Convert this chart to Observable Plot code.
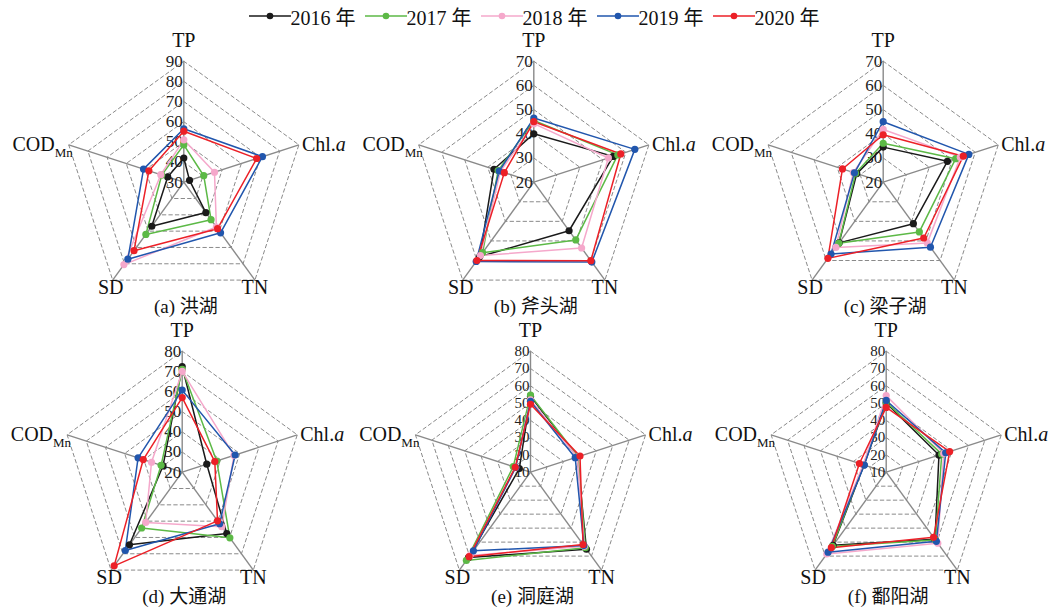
<!DOCTYPE html>
<html><head><meta charset="utf-8">
<script src="https://cdn.jsdelivr.net/npm/d3@7"></script>
<script src="https://cdn.jsdelivr.net/npm/@observablehq/plot@0.6"></script>
<style>
body{margin:0;background:#fff;font-family:"Liberation Serif","Noto Sans CJK SC",serif;color:#111;}
#legend{height:30px;display:flex;justify-content:center;align-items:center;gap:9px;padding-left:16px;font-size:20px;box-sizing:border-box;padding-top:2px}
.item{display:flex;align-items:center;white-space:nowrap}
#grid{display:grid;grid-template-columns:350px 350px 352px;grid-template-rows:290px 290px}
#grid svg{overflow:visible}
</style></head><body>
<div id="legend"></div><div id="grid"></div>
<script>
// ---- data ----
const indicators = ["TP", "Chl.a", "TN", "SD", "CODMn"];
const years = ["2016 年", "2017 年", "2018 年", "2019 年", "2020 年"];
const yearColors = ["#1a1a1a", "#5cb946", "#f5a8cb", "#2156ad", "#ec2027"];
const lakeTitles = ["(a) 洪湖", "(b) 斧头湖", "(c) 梁子湖", "(d) 大通湖", "(e) 洞庭湖", "(f) 鄱阳湖"];
const axisMin = [30, 20, 20, 20, 10, 10];
const axisMax = [90, 70, 70, 80, 80, 80];
// rows: years 2016..2020; columns: TP, Chl.a, TN, SD, CODMn
const honghu = [
  [42, 33, 48.6, 57, 38.4],
  [48.5, 40.4, 53, 62, 41.5],
  [51, 46, 57.5, 80.5, 42],
  [56.5, 71, 61, 77.2, 51],
  [55.3, 68, 58.5, 72, 48.2]
];
const futouhu = [
  [40, 54.5, 44.8, 58, 37.3],
  [45.5, 56.5, 49.5, 56, 35.5],
  [44.2, 52.4, 53.6, 57.5, 34.5],
  [46.5, 63.9, 60.8, 60.5, 35],
  [45, 57.8, 60.1, 60, 32.8]
];
const liangzihu = [
  [34.5, 47.9, 41.2, 51, 31.5],
  [36.1, 51.5, 45.4, 51.2, 32],
  [41.8, 53.5, 51, 53.3, 33],
  [45, 57.2, 53.2, 56.7, 32.5],
  [39.6, 54.8, 48.5, 58.9, 37.7]
];
const datonghu = [
  [72.4, 32.8, 57.6, 64.5, 30],
  [71, 38, 60.2, 54.2, 31],
  [70, 47, 53.4, 50.8, 36],
  [60.7, 47.6, 51.6, 68, 43],
  [57, 37, 49.8, 77.4, 40.3]
];
const dongtinghu = [
  [54, 38.5, 65.1, 71, 16.8],
  [54.6, 39, 64, 73.1, 20.5],
  [51.8, 38.5, 63, 69.5, 19],
  [51, 37.2, 62.5, 66.2, 19],
  [49.3, 40.1, 61.7, 70.4, 19.3]
];
const poyanghu = [
  [50, 42.1, 58, 62.3, 23.5],
  [50.5, 43.8, 58.5, 63, 23.8],
  [54.3, 45, 60.8, 68.5, 24],
  [51.5, 46.2, 59.4, 67.2, 23.3],
  [47.5, 48.6, 56.6, 64, 26.3]
];
const lakeValues = [honghu, futouhu, liangzihu, datonghu, dongtinghu, poyanghu];

// ---- layout ----
const R = 121, H = 290, CY = 151.7;
const CX = [183.3, 183.3, 182.7, 181.7, 180, 185.7];
const FONT = '"Liberation Serif","Noto Sans CJK SC",serif';
const GRID = "#8a8a8a";

// legend
const legend = d3.select("#legend");
years.forEach((y, i) => {
  const it = legend.append("div").attr("class", "item");
  const s = it.append("svg").attr("width", 42).attr("height", 12);
  s.append("line").attr("x1", 0).attr("x2", 42).attr("y1", 6).attr("y2", 6).attr("stroke", yearColors[i]).attr("stroke-width", 1.6);
  s.append("circle").attr("cx", 21).attr("cy", 6).attr("r", 3.3).attr("fill", yearColors[i]);
  it.append("span").text(y);
});

function dir(k) { const a = k * 2 * Math.PI / 5; return [Math.sin(a), Math.cos(a)]; }

function radar(i) {
  const lo = axisMin[i], hi = axisMax[i], span = hi - lo, n = span / 10;
  const cx = CX[i], w = (i % 3 === 2) ? 352 : 350;
  const tickSize = n > 6 ? 15 : 17;
  const rings = [];
  for (let j = 1; j <= n; j++) for (let k = 0; k <= 5; k++) {
    const [sx, sy] = dir(k % 5); rings.push({ring: j, x: sx * j / n, y: sy * j / n});
  }
  const spokes = indicators.map((name, k) => { const [sx, sy] = dir(k); return {name, x: sx, y: sy}; });
  const ticks = d3.range(lo, hi + 0.1, 10).map(v => ({label: String(v), y: (v - lo) / span}));
  const series = [], pts = [];
  lakeValues[i].forEach((vals, s) => {
    for (let k = 0; k <= 5; k++) {
      const r = (vals[k % 5] - lo) / span; const [sx, sy] = dir(k % 5);
      const p = {year: years[s], x: sx * r, y: sy * r};
      series.push(p); if (k < 5) pts.push(p);
    }
  });
  const lab = name => spokes.filter(d => d.name === name);
  const plot = Plot.plot({
    width: w, height: H, margin: 0,
    x: {domain: [-cx / R, (w - cx) / R]},
    y: {domain: [-(H - CY) / R, CY / R]},
    axis: null,
    color: {domain: years, range: yearColors},
    style: {fontFamily: FONT, background: "transparent", overflow: "visible"},
    marks: [
      Plot.line(rings, {x: "x", y: "y", z: "ring", stroke: GRID, strokeWidth: 1, strokeDasharray: "3.5,3"}),
      Plot.link(spokes, {x1: () => 0, y1: () => 0, x2: "x", y2: "y", stroke: GRID, strokeWidth: 1.4}),
      Plot.text(ticks, {x: () => 0, y: "y", text: "label", textAnchor: "end", dx: -1, fontSize: tickSize, fill: "#222"}),
      Plot.line(series, {x: "x", y: "y", z: "year", stroke: "year", strokeWidth: 1.5, curve: "linear"}),
      Plot.dot(pts, {x: "x", y: "y", fill: "year", r: 3.6}),
      Plot.text(lab("TP"), {x: "x", y: "y", text: "name", lineAnchor: "bottom", dy: -14, fontSize: 20, fill: "#111"}),
      Plot.text(lab("Chl.a"), {x: "x", y: "y", text: "name", textAnchor: "start", dx: 3, fontSize: 20, fill: "#111"}),
      Plot.text(lab("TN"), {x: "x", y: "y", text: "name", lineAnchor: "top", dx: 0, dy: 0, fontSize: 20, fill: "#111"}),
      Plot.text(lab("SD"), {x: "x", y: "y", text: "name", lineAnchor: "top", dx: -2, dy: 0, fontSize: 20, fill: "#111"}),
      Plot.text(lab("CODMn"), {x: "x", y: "y", text: "name", textAnchor: "end", dx: 4, fontSize: 20, fill: "#111"}),
      Plot.text([lakeTitles[i]], {x: () => 0, frameAnchor: "bottom", text: d => d, lineAnchor: "bottom", dx: 2, dy: -8, fontSize: 19, fill: "#111"})
    ]
  });
  d3.select(plot).selectAll("text").each(function () {
    const t = this.textContent;
    if (t === "Chl.a") { this.textContent = "Chl."; d3.select(this).append("tspan").attr("font-style", "italic").text("a"); }
    if (t === "CODMn") { this.textContent = "COD"; d3.select(this).append("tspan").attr("font-size", 13).attr("dy", 6).text("Mn"); }
  });
  return plot;
}

const grid = document.getElementById("grid");
for (let i = 0; i < 6; i++) grid.appendChild(radar(i));
</script></body></html>
